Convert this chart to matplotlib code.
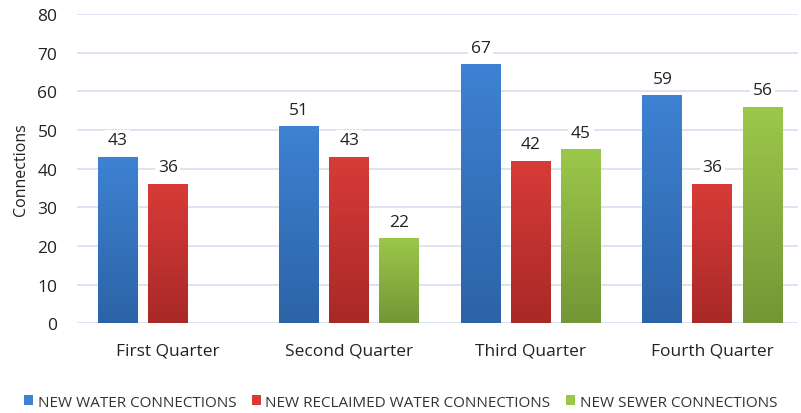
import numpy as np
import matplotlib
matplotlib.use("Agg")
import matplotlib.pyplot as plt
from matplotlib.colors import LinearSegmentedColormap
from matplotlib.patches import Patch

plt.rcParams['font.family'] = ['Open Sans', 'DejaVu Sans']

quarters = ['First Quarter', 'Second Quarter', 'Third Quarter', 'Fourth Quarter']
water = [43, 51, 67, 59]
reclaimed = [36, 43, 42, 36]
sewer = [None, 22, 45, 56]
series_names = ['NEW WATER CONNECTIONS', 'NEW RECLAIMED WATER CONNECTIONS', 'NEW SEWER CONNECTIONS']

# (top colour, bottom colour) for the gradient fill
grads = [('#3e82d3', '#2c63a6'), ('#d83b38', '#a82927'), ('#9cc84a', '#739636')]

fig = plt.figure(figsize=(8.01, 4.14), dpi=100)
ax = fig.add_axes([0.096, 0.217, 0.9, 0.747])

x = np.arange(len(quarters))
w = 0.22
offs = [-0.276, 0.0, 0.276]

for vals, off, (ctop, cbot) in zip([water, reclaimed, sewer], offs, grads):
    cmap = LinearSegmentedColormap.from_list('g', [cbot, ctop])
    for xi, v in zip(x, vals):
        if v is None:
            continue
        bar = ax.bar(xi + off, v, width=w, color=ctop, zorder=2, linewidth=0)[0]
        grad = np.linspace(0, 1, 256).reshape(-1, 1)
        im = ax.imshow(grad, cmap=cmap, origin='lower', aspect='auto',
                       extent=[xi + off - w / 2, xi + off + w / 2, 0, v], zorder=3)
        im.set_clip_path(bar)
        ax.text(xi + off, v + 2.2, str(v), ha='center', va='bottom', fontsize=12.5,
                color='#222222', zorder=4,
                bbox=dict(facecolor='white', edgecolor='none', pad=2))

ax.set_xlim(-0.5, 3.47)
ax.set_ylim(0, 80)
ax.set_yticks(range(0, 81, 10))
ax.set_xticks(x)
ax.set_xticklabels(quarters, fontsize=12.5, color='#222222')
ax.tick_params(axis='y', labelsize=12.5, colors='#222222', length=0, pad=14)
ax.tick_params(axis='x', length=0, pad=14)
ax.grid(axis='y', color='#d6dff0', linewidth=1.2, zorder=0)
for s in ax.spines.values():
    s.set_visible(False)
ax.set_ylabel('Connections', fontsize=11.5, color='#222222', labelpad=6)

handles = [Patch(facecolor=c[0], edgecolor='none') for c in grads]
fig.legend(handles, series_names, loc='lower center', ncol=3, frameon=False,
           fontsize=11, bbox_to_anchor=(0.5, -0.025), handlelength=0.6,
           handleheight=0.6, handletextpad=0.3, columnspacing=1.0,
           labelcolor='#333333')

fig.savefig('out.png', dpi=100)
